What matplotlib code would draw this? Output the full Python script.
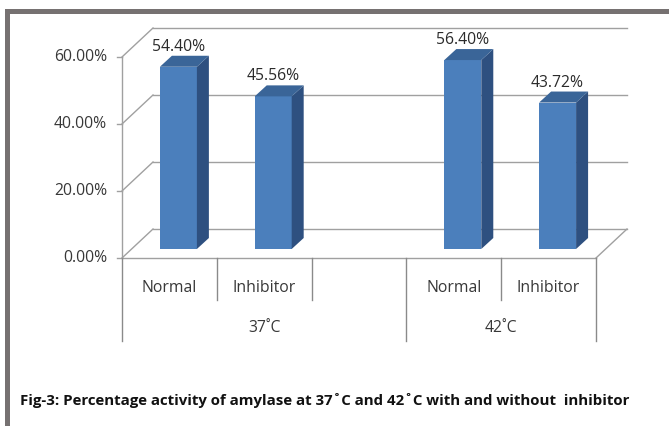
import matplotlib
matplotlib.use("Agg")
import matplotlib.pyplot as plt
from matplotlib.patches import Polygon, Rectangle
from matplotlib.lines import Line2D
from matplotlib.transforms import IdentityTransform, offset_copy

# ---- data -------------------------------------------------------------
groups = ["37˚C", "42˚C"]
conditions = ["Normal", "Inhibitor"]
activity = [54.40, 45.56, 56.40, 43.72]          # % activity, group-major order
value_labels = ["54.40%", "45.56%", "56.40%", "43.72%"]
y_ticks = [0, 20, 40, 60]
y_tick_labels = ["0.00%", "20.00%", "40.00%", "60.00%"]
caption = ("Fig-3: Percentage activity of amylase at 37˚C and 42˚C "
           "with and without  inhibitor")

# ---- figure / style ---------------------------------------------------
W, H, DPI = 669, 426, 100
plt.rcParams["font.family"] = ["Open Sans", "DejaVu Sans"]

FRONT = "#4B7FBC"
SIDE = "#2E5080"
TOP = "#3A6598"
GRID = "#A0A0A0"
CAT = "#8A8A8A"
BORDER = "#767171"
TXT = "#383838"

WALL = (31, 29)       # depth of the floor / back wall, in pixels
BAR_OFF = (9, 9)      # where the bars stand inside the depth
BAR_D = (12, 11)      # depth of each bar

fig = plt.figure(figsize=(W / DPI, H / DPI), dpi=DPI)
fig.patch.set_facecolor("white")

# frame of the figure box (top and left edges)
fig.add_artist(Rectangle((5 / W, 1 - 14 / H), 1, 5 / H, transform=fig.transFigure,
                         facecolor=BORDER, edgecolor="none"))
fig.add_artist(Rectangle((5 / W, 0), 5 / W, 1 - 9 / H, transform=fig.transFigure,
                         facecolor=BORDER, edgecolor="none"))

# front plane of the 3-D plot area
ax = fig.add_axes([122 / W, 1 - 258 / H, (596 - 122) / W, (258 - 57) / H])
n_slots = len(groups) * (len(conditions) + 1) - 1
ax.set_xlim(-0.5, n_slots - 0.5)
ax.set_ylim(y_ticks[0], y_ticks[-1])
ax.axis("off")

ident = IdentityTransform()


def disp(x, y, d=(0, 0)):
    px, py = ax.transData.transform((x, y))
    return (px + d[0], py + d[1])


def add(p, q, color=GRID, lw=1.0):
    ax.add_line(Line2D([p[0], q[0]], [p[1], q[1]], color=color, lw=lw,
                       transform=ident, clip_on=False))


x0, x1 = -0.5, n_slots - 0.5

# back wall gridlines, side-wall diagonals and ticks
for t, lab in zip(y_ticks, y_tick_labels):
    add(disp(x0, t, WALL), disp(x1, t, WALL))
    add(disp(x0, t), disp(x0, t, WALL))
    p = disp(x0, t)
    add(p, (p[0] - 5, p[1]))
    ax.text(p[0] - 15, p[1], lab, transform=ident, ha="right", va="center",
            fontsize=11.3, color=TXT)

# floor front edge, right floor edge, front value axis
add(disp(x0, 0), disp(x1, 0))
add(disp(x1, 0), disp(x1, 0, WALL))
add(disp(x0, 0), disp(x0, y_ticks[-1]))

# bar positions
slots = []
for g in range(len(groups)):
    for c in range(len(conditions)):
        slots.append(g * (len(conditions) + 1) + c)

bw = 0.39
front_tr = offset_copy(ax.transData, fig=fig, x=BAR_OFF[0], y=BAR_OFF[1], units="dots")
ax.bar(slots, activity, width=bw, color=FRONT, edgecolor="none",
       transform=front_tr, clip_on=False, zorder=3)

for s, v, lab in zip(slots, activity, value_labels):
    fl = disp(s - bw / 2, v, BAR_OFF)
    fr = disp(s + bw / 2, v, BAR_OFF)
    br = disp(s + bw / 2, 0, BAR_OFF)
    dx, dy = BAR_D
    side = [br, fr, (fr[0] + dx, fr[1] + dy), (br[0] + dx, br[1] + dy)]
    top = [fl, fr, (fr[0] + dx, fr[1] + dy), (fl[0] + dx, fl[1] + dy)]
    ax.add_patch(Polygon(side, closed=True, facecolor=SIDE, edgecolor="none",
                         transform=ident, clip_on=False, zorder=3))
    ax.add_patch(Polygon(top, closed=True, facecolor=TOP, edgecolor="none",
                         transform=ident, clip_on=False, zorder=3))
    cx = (fl[0] + fr[0]) / 2
    ax.text(cx, fl[1] + 20, lab, transform=ident, ha="center", va="center",
            fontsize=11.3, color="#2B2B2B", zorder=4)

# two-level category axis
for s in slots:
    p = disp(s, 0)
    ax.text(p[0], p[1] - 30, conditions[s % (len(conditions) + 1)],
            transform=ident, ha="center", va="center", fontsize=11.3, color=TXT)

inner = [s + 0.5 for s in slots if s % (len(conditions) + 1) < len(conditions) - 1]
inner += [g * (len(conditions) + 1) + len(conditions) - 0.5 for g in range(len(groups) - 1)]
outer = [x0] + [g * (len(conditions) + 1) - 0.5 for g in range(1, len(groups))] + [x1]
for b in inner:
    p = disp(b, 0)
    add(p, (p[0], p[1] - 42), color=CAT)
for b in outer:
    p = disp(b, 0)
    add(p, (p[0], p[1] - 83), color=CAT)

for g, name in enumerate(groups):
    left = outer[g]
    right = outer[g + 1]
    pl, pr = disp(left, 0), disp(right, 0)
    ax.text((pl[0] + pr[0]) / 2, pl[1] - 70, name, transform=ident,
            ha="center", va="center", fontsize=11.3, color=TXT)

fig.text(20 / W, 1 - 401 / H, caption, ha="left", va="center", fontsize=10.8,
         fontweight="bold", color="#111111")

fig.savefig("out.png", dpi=DPI)
